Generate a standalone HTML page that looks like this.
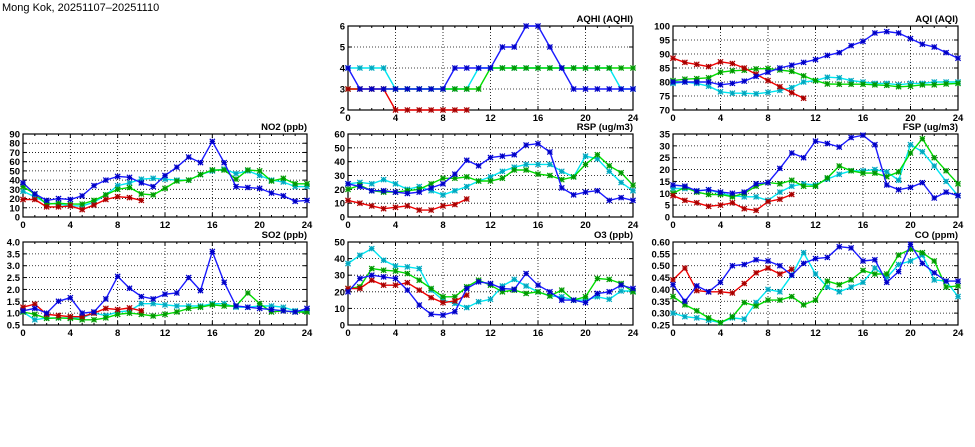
<!DOCTYPE html>
<html><head><meta charset="utf-8"><style>
html,body{margin:0;padding:0;background:#fff;}
svg{display:block;font-family:"Liberation Sans",sans-serif;}
</style></head><body>
<svg id="c" width="975" height="447" viewBox="0 0 975 447">
<text x="2" y="11" font-size="11" fill="#000">Mong Kok, 20251107–20251110</text>
</svg>
<script>
const hours = [0,1,2,3,4,5,6,7,8,9,10,11,12,13,14,15,16,17,18,19,20,21,22,23,24];
const xTicks = [0,4,8,12,16,20,24];

const aqhiBlue = [4,3,3,3,3,3,3,3,3,4,4,4,4,5,5,6,6,5,4,3,3,3,3,3,3];
const aqhiCyan = [4,4,4,4,3,3,3,3,3,3,3,4,4,4,4,4,4,4,4,4,4,4,4,3,3];
const aqhiGreen = [3,3,3,3,3,3,3,3,3,3,3,3,4,4,4,4,4,4,4,4,4,4,4,4,4];
const aqhiRed = [3,3,3,3,2,2,2,2,2,2,2];
const aqhiTicks = [2,3,4,5,6];

const aqiBlue = [80,80,80,80,79,79.5,80.3,82,83.5,85,86,87,88,89.5,90.5,93,94.5,97.5,98,97.5,95.5,93.5,92.5,90.5,88.5];
const aqiCyan = [79.5,80,79.5,78.5,76.5,76,76,75.8,76.3,77,78,80,80.5,81.7,81.5,80.5,80,79.5,79.5,79,79.5,79.5,80,80,80];
const aqiGreen = [80.5,81,81.2,81.5,83.5,84,84.2,84.7,84.8,84.3,83.8,82.2,80.5,79.3,79.2,79.2,79.2,79,78.8,78.3,78.5,79,79,79.3,79.5];
const aqiRed = [88.5,87,86.3,85.5,87.2,86.6,85,82.8,80.5,78.3,76.2,74.2];
const aqiTicks = [70,75,80,85,90,95,100];

const no2Blue = [37,25,18,20,19,23,34,40,44,43,37,33,45,54,65,59,82,59,33,32,31,26,23,17,18];
const no2Cyan = [28,22,15,14,12,12,16,24,34,37,41,42,41,40,40,46,50,52,47,50,45,40,38,33,33];
const no2Green = [33,25,14,15,14,14,18,24,30,32,25,24,31,39,40,46,51,51,41,51,50,39,42,36,36];
const no2Red = [19,19,11,11,12,8,13,19,22,21,18];
const no2Ticks = [0,10,20,30,40,50,60,70,80,90];

const rspBlue = [24,22,19,19,18,17,18,21,24,31,41,37,43,44,45,52,53,47,21,16,18,19,12,14,12];
const rspCyan = [24,25,24,27,24,20,22,19,16,19,22,26,29,33,36,38,38,38,33,29,44,42,33,25,19];
const rspGreen = [20,23,19,18,18,19,20,24,28,28,29,26,26,28,34,34,31,30,27,29,38,45,37,32,23];
const rspRed = [12,10,8,6,7,8,5,5,8,9,13];
const rspTicks = [0,10,20,30,40,50,60];

const fspBlue = [13.5,13,11,11.5,10.5,10,10.5,14,14.5,20.5,27,25,32,31,29.5,33.5,34.5,30.5,13.5,11.5,12.5,14.5,8,10.5,9];
const fspCyan = [12,12,11,11.5,10,9,8.5,8.5,7,10.5,13,14,13.5,16,18,19.5,19.5,20,19,15.5,30.5,27.5,21.5,15,9];
const fspGreen = [10,12.5,10.5,9.5,9.5,8.5,10,13,14.5,14,15.5,13,13,16.5,21.5,19.5,18.5,18.5,17,19,27,33,25,19.5,14];
const fspRed = [9,7,6,4.5,5,6,3.5,2.8,6.5,7.5,9.5];
const fspTicks = [0,5,10,15,20,25,30,35];

const so2Blue = [1.1,1.2,1.0,1.5,1.65,1.0,1.05,1.6,2.55,2.05,1.7,1.6,1.8,1.85,2.5,1.95,3.6,2.3,1.3,1.25,1.2,1.15,1.1,1.05,1.2];
const so2Cyan = [1.05,0.72,0.8,0.8,0.8,0.8,1.0,0.9,1.05,1.1,1.4,1.4,1.35,1.3,1.3,1.3,1.4,1.4,1.25,1.25,1.3,1.3,1.25,1.1,1.1];
const so2Green = [1.05,0.95,0.78,0.8,0.78,0.72,0.72,0.8,0.95,1.0,0.95,0.88,0.95,1.05,1.2,1.25,1.35,1.3,1.3,1.85,1.4,1.05,1.1,1.05,1.05];
const so2Red = [1.25,1.38,0.95,0.9,0.85,0.85,1.0,1.2,1.15,1.22,1.1];
const so2Ticks = [0.5,1.0,1.5,2.0,2.5,3.0,3.5,4.0];

const o3Blue = [20,28,30,29,28,21,12,6.5,6,8,22,26,25,22,21.5,31,24,20,15,15,13.5,19,20,24,22];
const o3Cyan = [37,42,46,39,35.5,35,34,21,15,13,10.5,14,15.5,23.5,27.5,23.5,20,17.5,17,15,15,17,15.5,20.5,20.5];
const o3Green = [22,23,34,33,32.5,31,27,22,17,17,23,27,24,20,21,19,20,17.5,21,15,17,28,27.5,25,20];
const o3Red = [22,22,27,24,24,25.5,21,16.5,13.5,14.5,18];
const o3Ticks = [0,10,20,30,40,50];

const coBlue = [0.42,0.35,0.415,0.39,0.43,0.50,0.505,0.525,0.52,0.50,0.46,0.51,0.53,0.535,0.58,0.575,0.52,0.525,0.43,0.475,0.59,0.51,0.47,0.435,0.435];
const coCyan = [0.30,0.285,0.28,0.27,0.26,0.28,0.275,0.345,0.40,0.39,0.46,0.555,0.465,0.41,0.39,0.41,0.43,0.49,0.45,0.505,0.52,0.545,0.44,0.435,0.37];
const coGreen = [0.37,0.335,0.31,0.28,0.26,0.285,0.345,0.33,0.355,0.355,0.37,0.335,0.355,0.435,0.42,0.44,0.48,0.465,0.465,0.545,0.57,0.555,0.52,0.41,0.415];
const coRed = [0.44,0.49,0.395,0.39,0.39,0.385,0.425,0.47,0.49,0.465,0.485];
const coTicks = [0.25,0.30,0.35,0.40,0.45,0.50,0.55,0.60];

const NS = "http://www.w3.org/2000/svg";
const svg = document.getElementById('c');
function mk(tag, attrs, parent){
  const e = document.createElementNS(NS, tag);
  for (const k in attrs) e.setAttribute(k, attrs[k]);
  (parent||svg).appendChild(e);
  return e;
}
const COLS = [[23,307],[348,633],[673,958]];
const ROWS = [[26,110],[134,217],[242,325]];
const SER = [
  {c:'#00e6f0', m:'#00a8c0', n:'cyan'},
  {c:'#00dd00', m:'#009a00', n:'green'},
  {c:'#ee0000', m:'#aa0000', n:'red'},
  {c:'#1a1aff', m:'#0000c8', n:'blue'}
];
function panel(name, title, col, row, ticks, dec, cyan, green, red, blue){
  const [x0,x1] = COLS[col], [y1,y0] = ROWS[row];
  const lo = ticks[0], hi = ticks[ticks.length-1];
  const sx = h => x0 + (x1-x0)*h/24;
  const sy = v => y0 - (y0-y1)*(v-lo)/(hi-lo);
  const g = mk('g', {});
  
  
  ticks.forEach((t,i) => {
    if (i>0 && i<ticks.length-1) mk('line',{x1:x0,x2:x1,y1:sy(t),y2:sy(t),stroke:'#000','stroke-width':0.8,'stroke-dasharray':'1,2'},g);
    mk('line',{x1:x0,x2:x0+4,y1:sy(t),y2:sy(t),stroke:'#000','stroke-width':1},g);
    mk('line',{x1:x1,x2:x1-4,y1:sy(t),y2:sy(t),stroke:'#000','stroke-width':1},g);
    const lb = mk('text',{x:x0-3,y:sy(t)+3.5,'font-size':9.5,'font-weight':'bold','text-anchor':'end'},g);
    lb.textContent = t.toFixed(dec);
    
    
  });
  hours.forEach(h => {
    const len = (h%4===0)?4:2;
    mk('line',{x1:sx(h),x2:sx(h),y1:y0,y2:y0-len,stroke:'#000','stroke-width':1},g);
    mk('line',{x1:sx(h),x2:sx(h),y1:y1,y2:y1+len,stroke:'#000','stroke-width':1},g);
  });
  xTicks.forEach(t => {
    if (t>0 && t<24) mk('line',{x1:sx(t),x2:sx(t),y1:y1,y2:y0,stroke:'#000','stroke-width':0.8,'stroke-dasharray':'1,2'},g);
    const lb = mk('text',{x:sx(t),y:y0+11,'font-size':9.5,'font-weight':'bold','text-anchor':'middle'},g);
    lb.textContent = t;
    
    
  });
  mk('rect',{x:x0,y:y1,width:x1-x0,height:y0-y1,fill:'none',stroke:'#000','stroke-width':1.2},g);
  const tt = mk('text',{x:x1,y:y1-4,'font-size':9.5,'font-weight':'bold','text-anchor':'end'},g);
  tt.textContent = title;
  
  
  [cyan,green,red,blue].forEach((arr,si) => {
    const s = SER[si];
    const pts = arr.map((v,i) => sx(hours[i]).toFixed(1)+','+sy(v).toFixed(1)).join(' ');
    const pl = mk('polyline',{points:pts,fill:'none',stroke:s.c,'stroke-width':1.4},g);
    
    
    arr.forEach((v,i) => {
      const x = sx(hours[i]), y = sy(v), r = 2.6;
      const p = mk('path',{d:`M${x-r},${y-r}L${x+r},${y+r}M${x-r},${y+r}L${x+r},${y-r}M${x-r},${y}L${x+r},${y}M${x},${y-r}L${x},${y+r}`,stroke:s.m,'stroke-width':1.2,fill:'none'},g);
      
      
    });
  });
}
panel('aqhi','AQHI (AQHI)',1,0,aqhiTicks,0,aqhiCyan,aqhiGreen,aqhiRed,aqhiBlue);
panel('aqi','AQI (AQI)',2,0,aqiTicks,0,aqiCyan,aqiGreen,aqiRed,aqiBlue);
panel('no2','NO2 (ppb)',0,1,no2Ticks,0,no2Cyan,no2Green,no2Red,no2Blue);
panel('rsp','RSP (ug/m3)',1,1,rspTicks,0,rspCyan,rspGreen,rspRed,rspBlue);
panel('fsp','FSP (ug/m3)',2,1,fspTicks,0,fspCyan,fspGreen,fspRed,fspBlue);
panel('so2','SO2 (ppb)',0,2,so2Ticks,1,so2Cyan,so2Green,so2Red,so2Blue);
panel('o3','O3 (ppb)',1,2,o3Ticks,0,o3Cyan,o3Green,o3Red,o3Blue);
panel('co','CO (ppm)',2,2,coTicks,2,coCyan,coGreen,coRed,coBlue);
</script>
</body></html>
